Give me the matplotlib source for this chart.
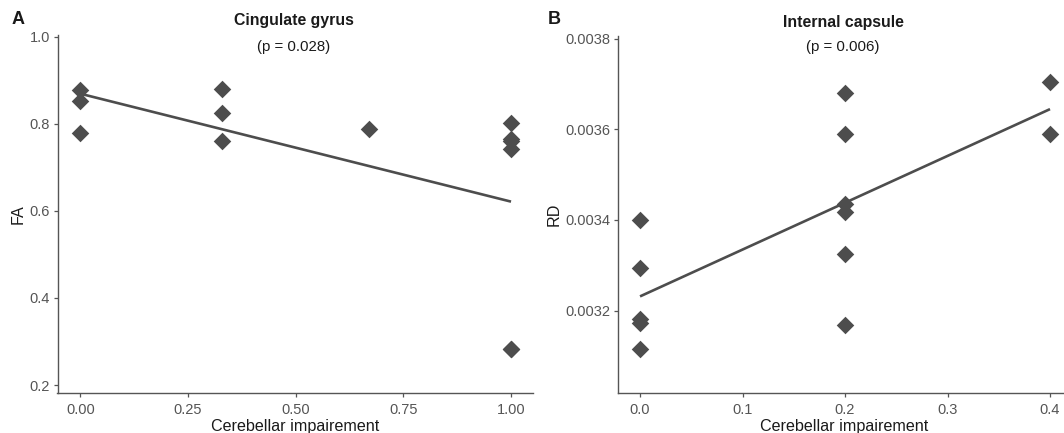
import numpy as np
import matplotlib
matplotlib.use("Agg")
import matplotlib.pyplot as plt

plt.rcParams['font.family'] = ['Liberation Sans', 'DejaVu Sans']

# Panel A: Cingulate gyrus
a_x = [0, 0, 0, 0.33, 0.33, 0.33, 0.67, 1, 1, 1, 1, 1, 1]
a_y = [0.878, 0.853, 0.779, 0.880, 0.825, 0.760, 0.789, 0.801, 0.766, 0.760, 0.743, 0.283, 0.283]
a_title = "Cingulate gyrus"
a_p = "(p = 0.028)"
a_xticks = [0.00, 0.25, 0.50, 0.75, 1.00]
a_xticklabels = ["0.00", "0.25", "0.50", "0.75", "1.00"]
a_yticks = [0.2, 0.4, 0.6, 0.8, 1.0]
a_yticklabels = ["0.2", "0.4", "0.6", "0.8", "1.0"]

# Panel B: Internal capsule
b_x = [0, 0, 0, 0, 0, 0.2, 0.2, 0.2, 0.2, 0.2, 0.2, 0.4, 0.4]
b_y = [0.003400, 0.003294, 0.003181, 0.003172, 0.003115,
       0.003681, 0.003590, 0.003436, 0.003417, 0.003325, 0.003167,
       0.003705, 0.003590]
b_title = "Internal capsule"
b_p = "(p = 0.006)"
b_xticks = [0.0, 0.1, 0.2, 0.3, 0.4]
b_xticklabels = ["0.0", "0.1", "0.2", "0.3", "0.4"]
b_yticks = [0.0032, 0.0034, 0.0036, 0.0038]
b_yticklabels = ["0.0032", "0.0034", "0.0036", "0.0038"]

x_label = "Cerebellar impairement"

W, H = 1064, 433
fig = plt.figure(figsize=(W / 100, H / 100), dpi=100)

pt_col = '#4D4D4D'
ax_col = '#555555'


def px_axes(left, right, top, bottom):
    return fig.add_axes([left / W, (H - bottom) / H, (right - left) / W, (bottom - top) / H])


def style(ax):
    for s in ['top', 'right']:
        ax.spines[s].set_visible(False)
    for s in ['left', 'bottom']:
        ax.spines[s].set_color(ax_col)
        ax.spines[s].set_linewidth(1.0)
    ax.tick_params(axis='both', length=3, width=0.9, color=ax_col,
                   labelcolor='#555555', labelsize=10.5, pad=2.5)
    ax.tick_params(axis='x', pad=4)


def panel(ax, x, y, xlim, ylim, xticks, xtl, yticks, ytl, ylabel):
    x = np.asarray(x)
    y = np.asarray(y)
    ax.scatter(x, y, marker='D', s=80, color=pt_col, linewidths=0, zorder=3)
    k, b = np.polyfit(x, y, 1)
    xs = np.array([x.min(), x.max()])
    ax.plot(xs, k * xs + b, color=pt_col, lw=1.9, zorder=2, solid_capstyle='butt')
    ax.set_xlim(*xlim)
    ax.set_ylim(*ylim)
    ax.set_xticks(xticks)
    ax.set_xticklabels(xtl)
    ax.set_yticks(yticks)
    ax.set_yticklabels(ytl)
    ax.set_xlabel(x_label, fontsize=11.6, color='#1a1a1a', labelpad=1.5)
    ax.set_ylabel(ylabel, fontsize=11.6, color='#1a1a1a', labelpad=2.5)
    style(ax)


axA = px_axes(57.5, 533, 35, 393)
panel(axA, a_x, a_y, (-0.053, 1.051), (0.1817, 1.004),
      a_xticks, a_xticklabels, a_yticks, a_yticklabels, "FA")

axB = px_axes(618, 1070, 36, 393)
panel(axB, b_x, b_y, (-0.0215, 0.4195), (0.003018, 0.003806),
      b_xticks, b_xticklabels, b_yticks, b_yticklabels, "RD")

# titles
fig.text(294 / W, 1 - 20 / H, a_title, ha='center', va='center', fontsize=11.4, fontweight='bold', color='#1a1a1a')
fig.text(294 / W, 1 - 47 / H, a_p, ha='center', va='center', fontsize=10.8, color='#1a1a1a')
fig.text(843 / W, 1 - 22 / H, b_title, ha='center', va='center', fontsize=11.4, fontweight='bold', color='#1a1a1a')
fig.text(843 / W, 1 - 47 / H, b_p, ha='center', va='center', fontsize=10.8, color='#1a1a1a')

fig.text(18 / W, 1 - 19 / H, "A", ha='center', va='center', fontsize=13, fontweight='bold', color='#1a1a1a')
fig.text(554 / W, 1 - 20 / H, "B", ha='center', va='center', fontsize=13, fontweight='bold', color='#1a1a1a')

fig.savefig("out.png", dpi=100)
